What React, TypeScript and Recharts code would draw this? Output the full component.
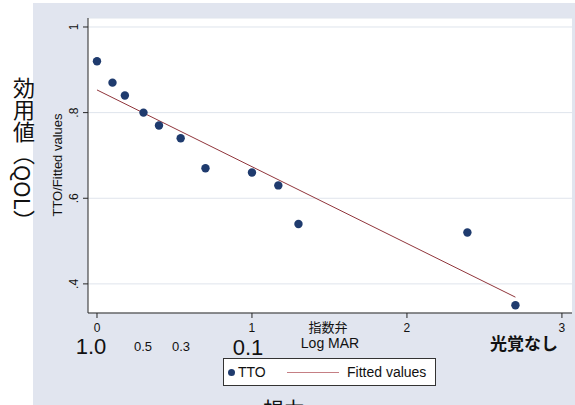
import React from 'react';
import { ScatterChart, Scatter, XAxis, YAxis, CartesianGrid, Legend, Customized } from 'recharts';

// ---- data ----
const logMAR = [0, 0.1, 0.18, 0.3, 0.4, 0.54, 0.7, 1.0, 1.17, 1.3, 2.39, 2.7];
const ttoValues = [0.92, 0.87, 0.84, 0.8, 0.77, 0.74, 0.67, 0.66, 0.63, 0.54, 0.52, 0.35];
const fittedX = [0, 2.7];
const fittedY = [0.853, 0.369];
const xTicks = [0, 1, 2, 3];
const yTicks = [0.4, 0.6, 0.8, 1];
const yTickLabels = ['.4', '.6', '.8', '1'];
const acuityLabels = ['1.0', '0.5', '0.3', '0.1'];
const seriesNames = ['TTO', 'Fitted values'];

const ttoData = logMAR.map((x, i) => ({ x, y: ttoValues[i] }));
const fittedData = fittedX.map((x, i) => ({ x, y: fittedY[i] }));

const W = 575;
const H = 405;
const FONT = '"Liberation Sans", Arial, Helvetica, sans-serif';
const CJK = '"Noto Sans CJK JP", "Noto Sans CJK SC", sans-serif';
const NAVY = '#1f3b6e';
const MAROON = '#90353b';
const BG = '#e1e5ef';
const GRID = '#dfe4ec';
const AXIS = '#262626';

const XTick = (props: any) => {
  const { x, payload } = props;
  return (
    <text x={x} y={332} textAnchor="middle" fontFamily={FONT} fontSize={12} fill="#111">
      {payload.value}
    </text>
  );
};

const YTick = (props: any) => {
  const { y, payload } = props;
  const idx = yTicks.indexOf(payload.value);
  const label = idx >= 0 ? yTickLabels[idx] : String(payload.value);
  return (
    <text
      x={78}
      y={y}
      transform={`rotate(-90, 78, ${y})`}
      textAnchor="middle"
      fontFamily={FONT}
      fontSize={12}
      fill="#111"
    >
      {label}
    </text>
  );
};

const Dot = (props: any) => {
  const { cx, cy } = props;
  if (cx == null || cy == null) return null;
  return <circle cx={cx} cy={cy} r={4.2} fill={NAVY} />;
};

const NoShape = () => <g />;

const Annotations = () => (
  <g>
    <text
      x={62}
      y={165}
      transform="rotate(-90, 62, 165)"
      textAnchor="middle"
      fontFamily={FONT}
      fontSize={13}
      fill="#111"
    >
      TTO/Fitted values
    </text>
    <text x={91} y={354} textAnchor="middle" fontFamily={FONT} fontSize={22} fill="#111">{acuityLabels[0]}</text>
    <text x={143} y={351} textAnchor="middle" fontFamily={FONT} fontSize={13} fill="#111">{acuityLabels[1]}</text>
    <text x={181} y={351} textAnchor="middle" fontFamily={FONT} fontSize={13} fill="#111">{acuityLabels[2]}</text>
    <text x={248} y={355} textAnchor="middle" fontFamily={FONT} fontSize={22} fill="#111">{acuityLabels[3]}</text>
    <text x={328} y={332} textAnchor="middle" fontFamily={CJK} fontSize={13} fill="#111">指数弁</text>
    <text x={330} y={348} textAnchor="middle" fontFamily={FONT} fontSize={14} fill="#111">Log MAR</text>
    <text x={524} y={350} textAnchor="middle" fontFamily={CJK} fontSize={17} fontWeight={700} fill="#111">光覚なし</text>
    <text x={284} y={417} textAnchor="middle" fontFamily={CJK} fontSize={21} fill="#111">視力</text>
  </g>
);

const LegendBox = () => (
  <div
    style={{
      position: 'relative',
      boxSizing: 'border-box',
      width: 213,
      height: 28,
      background: '#fff',
      border: '1px solid #333',
      fontFamily: FONT,
      fontSize: 14,
      color: '#111',
    }}
  >
    <div
      style={{
        position: 'absolute',
        left: 4,
        top: 10,
        width: 7,
        height: 7,
        borderRadius: '50%',
        background: NAVY,
      }}
    />
    <div style={{ position: 'absolute', left: 14, top: 5, lineHeight: '16px' }}>{seriesNames[0]}</div>
    <div
      style={{
        position: 'absolute',
        left: 63,
        top: 13,
        width: 52,
        height: 0,
        borderTop: '1px solid #c57f84',
      }}
    />
    <div style={{ position: 'absolute', left: 123, top: 5, lineHeight: '16px' }}>{seriesNames[1]}</div>
  </div>
);

export default function App() {
  return (
    <div style={{ position: 'absolute', left: 0, top: 0, width: W, height: H, background: '#fff', overflow: 'hidden' }}>
      <div style={{ position: 'absolute', left: 33, top: 3, width: W - 33, height: H - 3, background: BG }} />
      <div
        style={{
          position: 'absolute',
          left: 13,
          top: 77,
          writingMode: 'vertical-rl',
          fontFamily: CJK,
          fontSize: 22,
          lineHeight: '22px',
          color: '#111',
          whiteSpace: 'nowrap',
        }}
      >
        効用値（QOL）
      </div>
      <div style={{ position: 'absolute', left: 0, top: 0 }}>
        <ScatterChart width={W} height={H} margin={{ top: 18, right: 3, bottom: 62, left: 58 }}>
          <CartesianGrid vertical={false} horizontal={true} fill="#fff" stroke={GRID} strokeWidth={1} />
          <XAxis
            type="number"
            dataKey="x"
            domain={[-0.058, 3.065]}
            ticks={xTicks}
            allowDataOverflow
            height={30}
            axisLine={{ stroke: AXIS }}
            tickLine={{ stroke: AXIS }}
            tickSize={5}
            tick={<XTick />}
            interval={0}
          />
          <YAxis
            type="number"
            dataKey="y"
            domain={[0.332, 1.021]}
            ticks={yTicks}
            allowDataOverflow
            width={30}
            axisLine={{ stroke: AXIS }}
            tickLine={{ stroke: AXIS }}
            tickSize={5}
            tick={<YTick />}
            interval={0}
          />
          <Scatter
            name={seriesNames[1]}
            data={fittedData}
            line={{ stroke: MAROON, strokeWidth: 1 }}
            shape={NoShape}
            isAnimationActive={false}
          />
          <Scatter name={seriesNames[0]} data={ttoData} shape={Dot} isAnimationActive={false} />
          <Legend
            layout="horizontal"
            verticalAlign="middle"
            align="center"
            content={() => <LegendBox />}
            wrapperStyle={{ position: 'absolute', left: 223, top: 358, width: 213, height: 28 }}
          />
          <Customized component={Annotations} />
        </ScatterChart>
      </div>
    </div>
  );
}
